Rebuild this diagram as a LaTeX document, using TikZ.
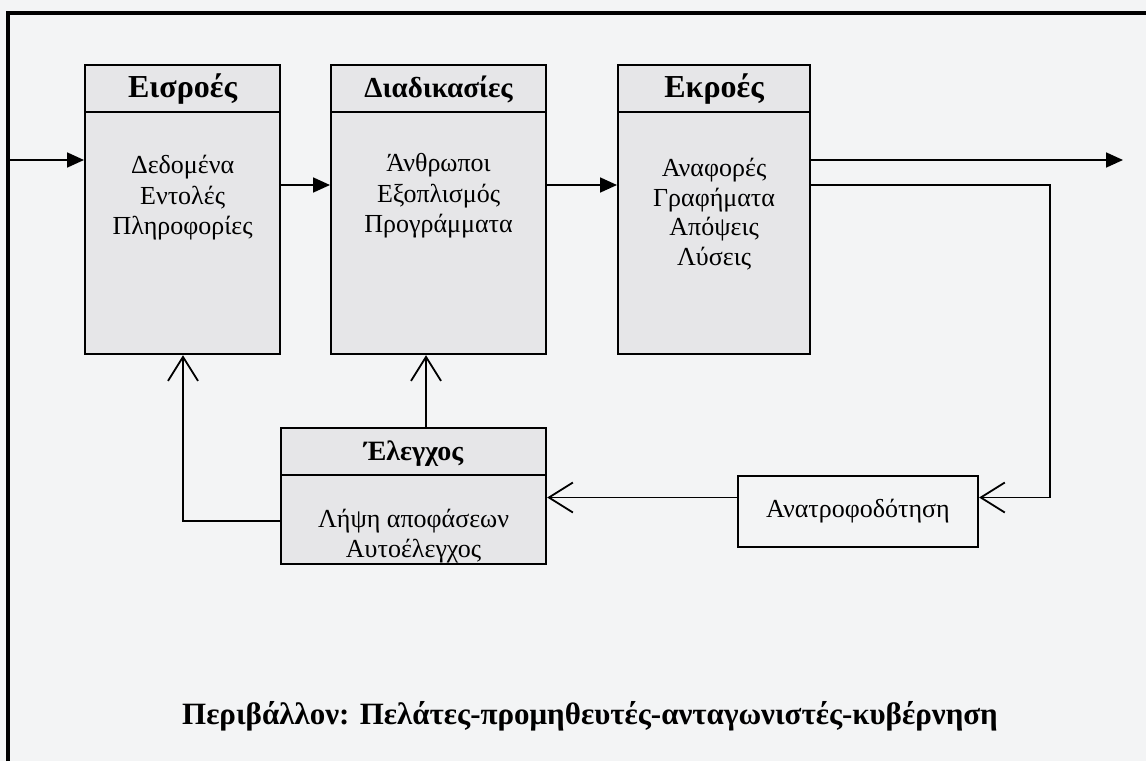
\documentclass[tikz,border=0pt]{standalone}
\usepackage{fontspec}
\setmainfont{Liberation Serif}
\usetikzlibrary{arrows.meta,calc}
\definecolor{paper}{HTML}{F3F4F5}
\definecolor{boxfill}{HTML}{E6E6E8}
\tikzset{
  unit/.style={draw=black, line width=2.2pt, fill=boxfill, inner sep=0pt, anchor=north west},
  head/.style={font=\bfseries\fontsize{32}{34}\selectfont, inner sep=0pt},
  body/.style={font=\fontsize{26}{30.5}\selectfont, align=center, inner sep=0pt},
  flow/.style={line width=1.8pt, -{Triangle[length=17pt,width=15pt]}},
  loop/.style={line width=1.8pt, -{Straight Barb[length=24pt,width=30pt,line width=1.8pt]}},
}
\begin{document}
\begin{tikzpicture}[x=1pt,y=-1pt]
  \useasboundingbox (0,0) rectangle (1146,761);
  \fill[paper] (0,0) rectangle (1146,761);
  % outer frame
  \draw[line width=3.2pt] (8,761) -- (8,13) -- (1146,13);

  % three main stages
  \node[unit, minimum width=195pt, minimum height=289pt] (inputs) at (84,64) {};
  \node[unit, minimum width=215pt, minimum height=289pt] (process) at (330,64) {};
  \node[unit, minimum width=192pt, minimum height=289pt] (outputs) at (617,64) {};
  \foreach \b in {inputs,process,outputs}
    \draw[line width=2pt] ($(\b.north west)+(0,48)$) -- ($(\b.north east)+(0,48)$);

  \node[head] (hin) at ($(inputs.north)+(0,25)$) {Εισροές};
  \node[head, font=\bfseries\fontsize{29}{32}\selectfont] (hpr) at ($(process.north)+(0,25)$) {Διαδικασίες};
  \node[head] (hout) at ($(outputs.north)+(0,25)$) {Εκροές};

  \node[body] (tin) at ($(inputs.north)+(0,134)$) {Δεδομένα\\Εντολές\\Πληροφορίες};
  \node[body] (tpr) at ($(process.north)+(0,132)$) {Άνθρωποι\\Εξοπλισμός\\Προγράμματα};
  \node[body, font=\fontsize{26}{29.5}\selectfont] (tout) at ($(outputs.north)+(0,150)$) {Αναφορές\\Γραφήματα\\Απόψεις\\Λύσεις};

  % control and feedback
  \node[unit, minimum width=265pt, minimum height=136pt] (control) at (280,427) {};
  \draw[line width=2pt] ($(control.north west)+(0,48)$) -- ($(control.north east)+(0,48)$);
  \node[head, font=\bfseries\fontsize{28}{30}\selectfont] (hctl) at ($(control.north)+(0,27)$) {Έλεγχος};
  \node[body] (tctl) at ($(control.north)+(0,109)$) {Λήψη αποφάσεων\\Αυτοέλεγχος};

  \node[draw=black, line width=2.2pt, fill=paper, minimum width=240pt, minimum height=71pt,
        inner sep=0pt, font=\fontsize{26}{28}\selectfont] (feedback) at (858,511.5) {Ανατροφοδότηση};

  % main flow
  \coordinate (source) at (8,160);
  \coordinate (sink) at (1123,160);
  \draw[flow] (source) -- (source -| inputs.west);
  \draw[flow] ($(inputs.north east)+(0,121)$) -- ($(process.north west)+(0,121)$);
  \draw[flow] ($(process.north east)+(0,121)$) -- ($(outputs.north west)+(0,121)$);
  \draw[flow] ($(outputs.north east)+(0,96)$) -- (sink);

  % feedback loop
  \coordinate (turn) at (1050,185);
  \coordinate (fbin) at ($(feedback.east)+(0,-14)$);
  \coordinate (fbout) at ($(feedback.west)+(0,-14)$);
  \coordinate (ctlleft) at ($(control.north west)+(0,94)$);
  \draw[loop] ($(outputs.north east)+(0,121)$) -- (turn) |- (fbin);
  \draw[loop] (fbout) -- (fbout -| control.east);
  \draw[loop] (ctlleft) -| (inputs.south -| 183,0);
  \draw[loop] (control.north -| 426,0) -- (process.south -| 426,0);

  % environment caption
  \node[font=\bfseries\fontsize{31}{34}\selectfont, inner sep=0pt] (env) at (590,716)
    {Περιβάλλον: Πελάτες-προμηθευτές-ανταγωνιστές-κυβέρνηση};
\end{tikzpicture}
\end{document}
